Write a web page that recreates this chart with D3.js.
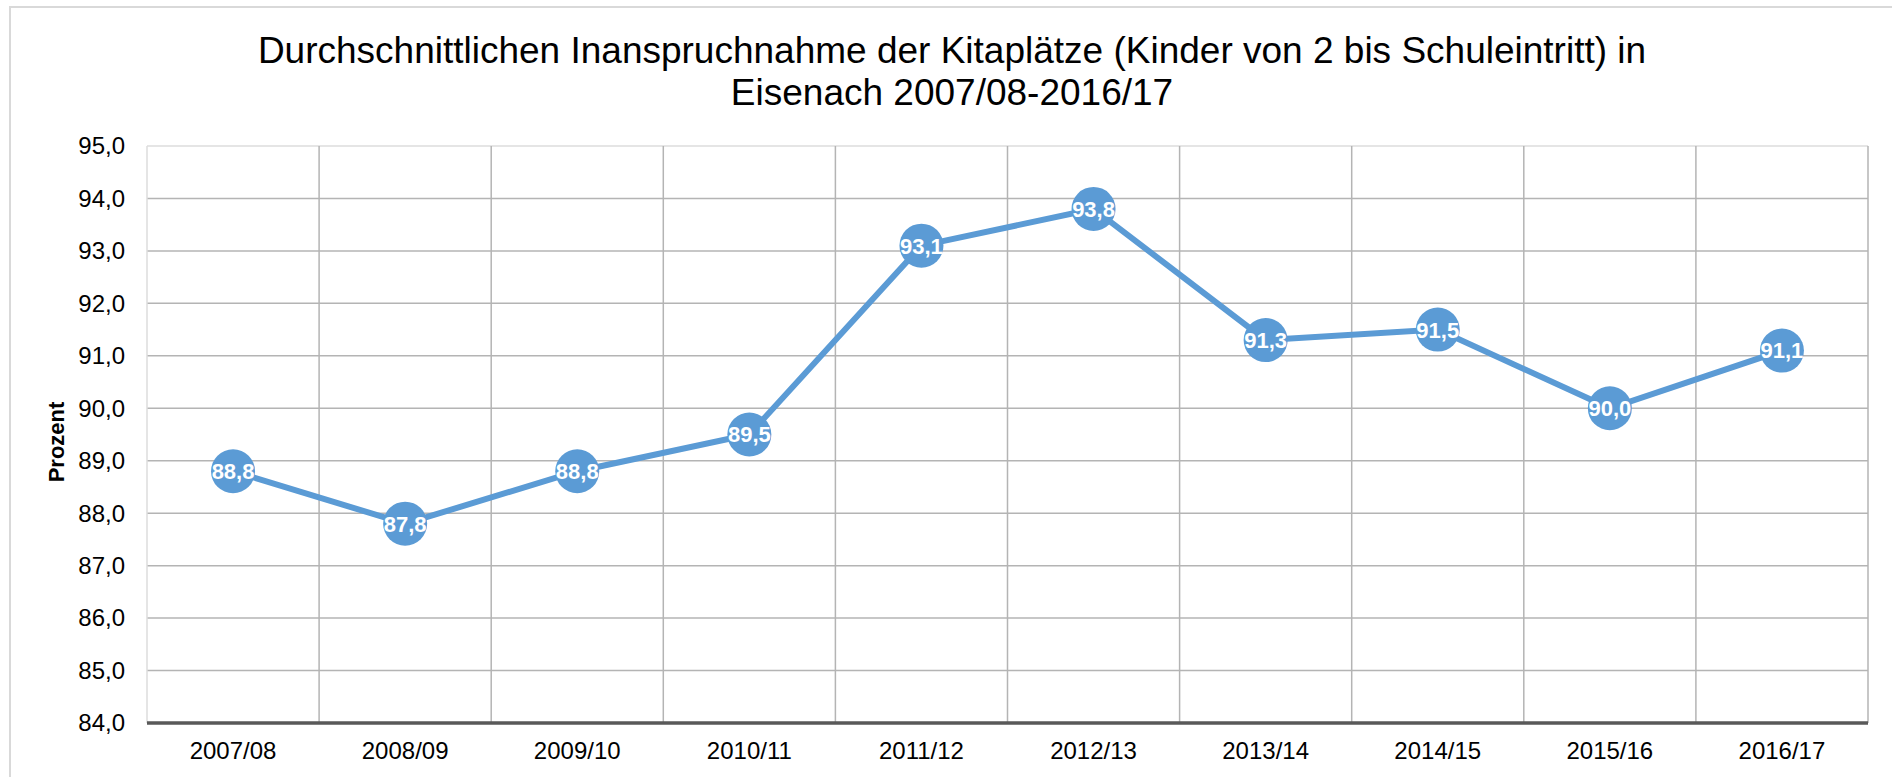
<html>
<head>
<meta charset="utf-8">
<style>
  body { margin: 0; background: #fff; }
  text { font-family: "Liberation Sans", Arial, sans-serif; }
</style>
</head>
<body>
<script src="https://cdn.jsdelivr.net/npm/d3@7"></script>
<script>
// Daten
var jahre = ["2007/08", "2008/09", "2009/10", "2010/11", "2011/12", "2012/13", "2013/14", "2014/15", "2015/16", "2016/17"];
var prozent = [88.8, 87.8, 88.8, 89.5, 93.1, 93.8, 91.3, 91.5, 90.0, 91.1];
var yTicks = [84, 85, 86, 87, 88, 89, 90, 91, 92, 93, 94, 95];
var titel = ["Durchschnittlichen Inanspruchnahme der Kitaplätze (Kinder von 2 bis Schuleintritt) in", "Eisenach 2007/08-2016/17"];

var width = 1892, height = 777;
var blau = "#5B9BD5";
var fmt = d => d3.format(".1f")(d).replace(".", ",");

var svg = d3.select("body").append("svg")
    .attr("width", width)
    .attr("height", height);

// Rahmen
svg.append("rect")
    .attr("x", 10).attr("y", 7)
    .attr("width", 1900).attr("height", 800)
    .attr("fill", "#fff")
    .attr("stroke", "#d9d9d9")
    .attr("stroke-width", 2);

var x = d3.scaleBand().domain(jahre).range([147, 1868]).padding(0);
var y = d3.scaleLinear().domain([84, 95]).range([723, 146]);

// Titel
svg.append("g").selectAll("text")
    .data(titel)
    .join("text")
    .attr("x", 952)
    .attr("y", (d, i) => 63 + i * 42)
    .attr("text-anchor", "middle")
    .attr("font-size", 37)
    .attr("fill", "#000")
    .text(d => d);

// Gitter horizontal
svg.append("g").selectAll("line")
    .data(yTicks.filter(d => d > 84))
    .join("line")
    .attr("x1", x.range()[0]).attr("x2", x.range()[1])
    .attr("y1", d => y(d)).attr("y2", d => y(d))
    .attr("stroke", d => d == 95 ? "#dcdcdc" : "#b4b4b4")
    .attr("stroke-width", 1.5);

// Gitter vertikal
var grenzen = jahre.map(d => x(d)).concat([x.range()[1]]);
svg.append("g").selectAll("line")
    .data(grenzen)
    .join("line")
    .attr("x1", d => d).attr("x2", d => d)
    .attr("y1", y(95)).attr("y2", y(84))
    .attr("stroke", (d, i) => i == 0 ? "#dcdcdc" : "#b4b4b4")
    .attr("stroke-width", 1.5);

// x-Achse
svg.append("line")
    .attr("x1", x.range()[0]).attr("x2", x.range()[1])
    .attr("y1", y(84)).attr("y2", y(84))
    .attr("stroke", "#595959")
    .attr("stroke-width", 3.5);

svg.append("g").selectAll("text")
    .data(jahre)
    .join("text")
    .attr("x", d => x(d) + x.bandwidth() / 2)
    .attr("y", 759)
    .attr("text-anchor", "middle")
    .attr("font-size", 24)
    .attr("fill", "#000")
    .text(d => d);

// y-Achse
svg.append("g").selectAll("text")
    .data(yTicks)
    .join("text")
    .attr("x", 125)
    .attr("y", d => y(d))
    .attr("dy", "0.35em")
    .attr("text-anchor", "end")
    .attr("font-size", 24)
    .attr("fill", "#000")
    .text(d => fmt(d));

svg.append("text")
    .attr("transform", "translate(64,442) rotate(-90)")
    .attr("text-anchor", "middle")
    .attr("font-size", 22)
    .attr("font-weight", "bold")
    .attr("fill", "#000")
    .text("Prozent");

// Linie
var punkte = jahre.map((d, i) => [x(d) + x.bandwidth() / 2, y(prozent[i])]);
svg.append("path")
    .datum(punkte)
    .attr("fill", "none")
    .attr("stroke", blau)
    .attr("stroke-width", 6)
    .attr("d", d3.line());

svg.append("g").selectAll("circle")
    .data(punkte)
    .join("circle")
    .attr("cx", d => d[0])
    .attr("cy", d => d[1])
    .attr("r", 22)
    .attr("fill", blau);

svg.append("g").selectAll("text")
    .data(punkte)
    .join("text")
    .attr("x", d => d[0])
    .attr("y", d => d[1])
    .attr("dy", "0.36em")
    .attr("text-anchor", "middle")
    .attr("font-size", 22)
    .attr("font-weight", "bold")
    .attr("fill", "#fff")
    .text((d, i) => fmt(prozent[i]));
</script>
</body>
</html>
